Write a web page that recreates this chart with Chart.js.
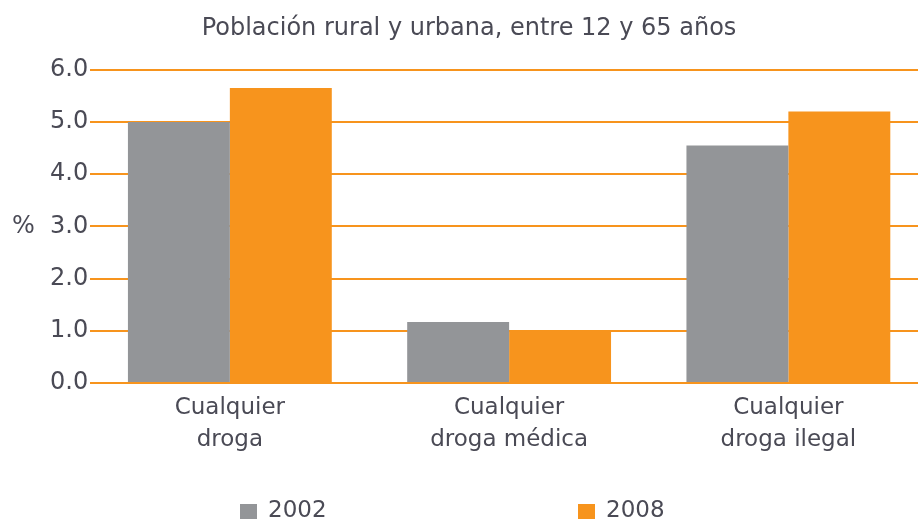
<!DOCTYPE html>
<html>
<head>
<meta charset="utf-8">
<script src="https://cdn.jsdelivr.net/npm/chart.js@4/dist/chart.umd.min.js"></script>
<style>
  html, body { margin: 0; padding: 0; background: #fff; overflow: hidden; }
  #wrap { position: relative; width: 930px; height: 522px; }
  #legend { position: absolute; top: 496px; left: 0; width: 918px; font-family: "DejaVu Sans", sans-serif; font-size: 23px; color: #4a4a55; }
  #legend span { position: absolute; display: flex; align-items: center; }
  #legend i { display: inline-block; width: 17px; height: 15px; margin-right: 11px; margin-top: 4px; }
</style>
</head>
<body>
<div id="wrap">
  <canvas id="myChart" width="930" height="522"></canvas>
  <div id="legend"></div>
</div>
<script>
const titleText = "Población rural y urbana, entre 12 y 65 años";
const categories = [["Cualquier", "droga"], ["Cualquier", "droga médica"], ["Cualquier", "droga ilegal"]];
const years = ["2002", "2008"];
const values2002 = [5.0, 1.17, 4.55];
const values2008 = [5.65, 1.0, 5.2];
const colors = ["#939598", "#f7941d"];
const legendLeft = [240, 578];

const textColor = "#4a4a55";
const fontName = "DejaVu Sans";

const data = {
  labels: categories,
  datasets: [
    { label: years[0], data: values2002, backgroundColor: colors[0] },
    { label: years[1], data: values2008, backgroundColor: colors[1] },
  ],
};

const options = {
  responsive: false,
  animation: false,
  layout: { padding: { left: 10, right: 2, top: 0, bottom: 65 } },
  datasets: { bar: { barPercentage: 1.0, categoryPercentage: 0.73 } },
  plugins: {
    legend: { display: false },
    tooltip: { enabled: false },
    title: {
      display: true,
      text: titleText,
      color: textColor,
      font: { family: fontName, size: 24, weight: "normal" },
      padding: { top: 14, bottom: 27 },
    },
  },
  scales: {
    x: {
      grid: { display: false },
      border: { display: false },
      ticks: {
        color: textColor,
        font: { family: fontName, size: 23, lineHeight: 1.39 },
        padding: 1,
        maxRotation: 0,
      },
    },
    y: {
      min: 0,
      max: 6,
      border: { display: false },
      grid: { color: colors[1], lineWidth: 2, drawTicks: false },
      ticks: {
        stepSize: 1,
        color: textColor,
        font: { family: fontName, size: 24 },
        padding: 2,
        callback: (v) => (v === 3 ? "%  " : "") + v.toFixed(1),
      },
    },
  },
};

const ctx = document.querySelector("#myChart").getContext("2d");
new Chart(ctx, { type: "bar", data: data, options: options });

const legend = document.querySelector("#legend");
years.forEach((year, i) => {
  legend.innerHTML += `<span style="left:${legendLeft[i]}px"><i style="background:${colors[i]}"></i>${year}</span>`;
});
</script>
</body>
</html>
